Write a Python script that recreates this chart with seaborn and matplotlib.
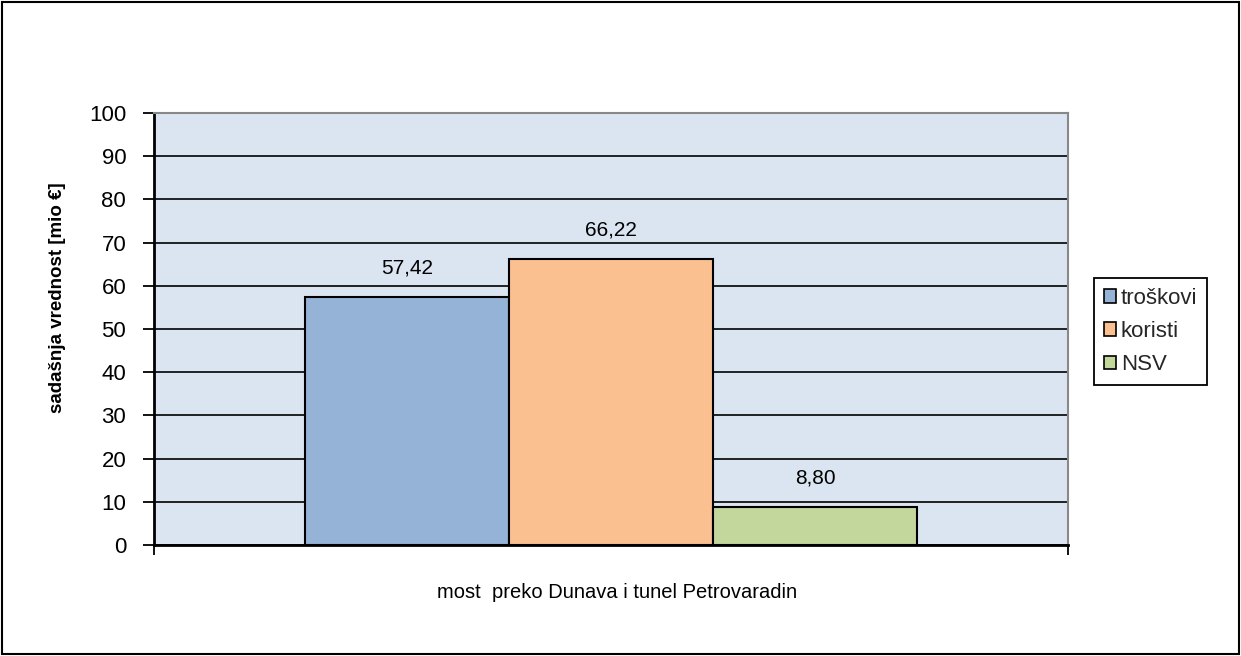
import matplotlib
matplotlib.use("Agg")
import matplotlib.pyplot as plt
import seaborn as sns
import pandas as pd
from matplotlib.patches import Rectangle, Patch

categories = ["most  preko Dunava i tunel Petrovaradin"]
series = ["troškovi", "koristi", "NSV"]
values = [57.42, 66.22, 8.80]
colors = ["#95B3D7", "#FAC090", "#C3D69B"]
yticks = [0, 10, 20, 30, 40, 50, 60, 70, 80, 90, 100]

df = pd.DataFrame({"cat": categories * len(series), "series": series, "val": values})

sns.set_theme(style="white")
plt.rcParams["font.family"] = ["Liberation Sans", "DejaVu Sans"]

fig = plt.figure(figsize=(12.41, 6.56), dpi=100)
ax = fig.add_axes([154/1241, 1-545/656, (1068-154)/1241, (545-113)/656])
ax.set_facecolor("#DBE5F1")

sns.barplot(data=df, x="cat", y="val", hue="series", palette=colors, width=0.67,
            saturation=1, edgecolor="black", linewidth=1.5, ax=ax, legend=False, zorder=3)

for cont in ax.containers:
    lbls = [f"{v:.2f}".replace(".", ",") for v in cont.datavalues]
    ax.bar_label(cont, labels=lbls, padding=14, fontsize=15, color="black")

ax.set_ylim(0, 100)
ax.set_xlim(-0.5, 0.5)
ax.set_yticks(yticks)
ax.set_yticklabels([str(t) for t in yticks], fontsize=16, color="black")
ax.set_xticks([-0.5, 0.5])
ax.set_xticklabels(["", ""])
ax.yaxis.grid(True, color="black", linewidth=1.2, zorder=0)
ax.set_axisbelow(True)
ax.tick_params(axis="y", left=True, length=8, width=1.3, color="black", pad=12)
ax.tick_params(axis="x", bottom=True, length=7, width=1.3, color="black")

for s in ["left", "bottom"]:
    ax.spines[s].set_color("black")
    ax.spines[s].set_linewidth(2)
for s in ["top", "right"]:
    ax.spines[s].set_color("#888888")
    ax.spines[s].set_linewidth(1.5)

ax.set_xlabel("")
ax.set_ylabel("")
fig.text(617/1241, 1-593/656, categories[0], ha="center", va="center", fontsize=14.5, color="black")
fig.text(58/1241, 1-298/656, "sadašnja vrednost [mio €]", rotation=90, ha="center", va="center",
         fontsize=13.5, fontweight="bold", color="black",
         family=["Liberation Sans Narrow", "Liberation Sans", "DejaVu Sans"])

handles = [Patch(facecolor=c, edgecolor="black", linewidth=1.2) for c in colors]
leg = fig.legend(handles, series, loc="center left", bbox_to_anchor=(1094/1241, 1-331.5/656),
                 fontsize=16, frameon=True, fancybox=False, handlelength=0.55, handleheight=0.55,
                 handletextpad=0.2, labelspacing=0.55, borderpad=0.45, borderaxespad=0)
leg.get_frame().set_edgecolor("black")
leg.get_frame().set_linewidth(1.3)
leg.get_frame().set_alpha(1)

fig.patches.append(Rectangle((2/1241, 2/656), 1-4/1241, 1-4/656, transform=fig.transFigure,
                             fill=False, edgecolor="black", linewidth=1.5))

fig.savefig("out.png", dpi=100, facecolor="white")
